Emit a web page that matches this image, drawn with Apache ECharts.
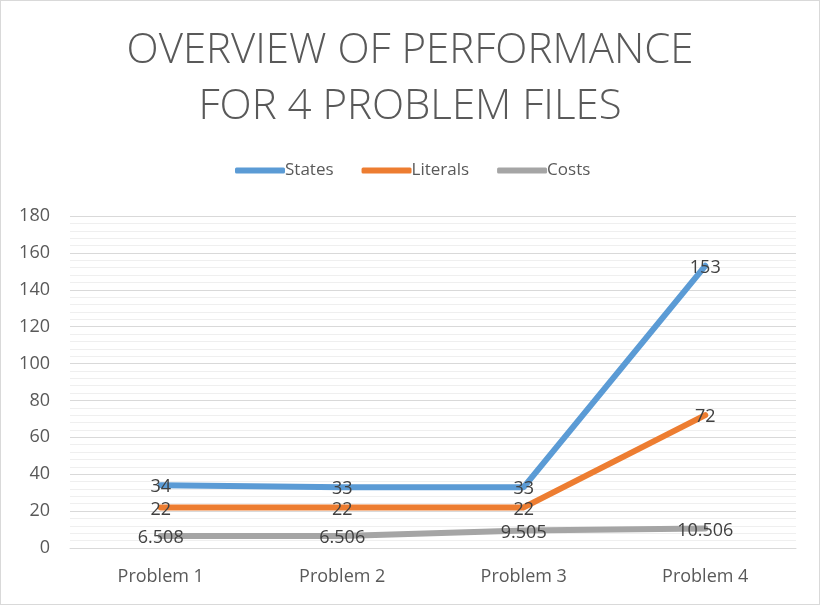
<!DOCTYPE html>
<html><head><meta charset="utf-8">
<script src="https://cdn.jsdelivr.net/npm/echarts@6/dist/echarts.min.js"></script>
<style>html,body{margin:0;padding:0;background:#fff}#c{position:absolute;left:0;top:0;width:818px;height:603px;border:1px solid #d9d9d9}</style>
</head><body><div id="c"></div>
<script>
const categories = ['Problem 1','Problem 2','Problem 3','Problem 4'];
const states = [34,33,33,153];
const literals = [22,22,22,72];
const costs = [6.508,6.506,9.505,10.506];
const FONT = '"Open Sans", "Noto Sans", sans-serif';
const chart = echarts.init(document.getElementById('c'));
function s(name, data, color){
  return {name, type:'line', data, smooth:false, symbol:'circle', symbolSize:0.01,
    itemStyle:{color}, lineStyle:{color, width:6, cap:'round', join:'round'},
    label:{show:true, position:'inside', offset:[0,2], color:'#404040', fontSize:18, fontFamily:FONT},
    emphasis:{disabled:true}, animation:false};
}
chart.setOption({
  animation:false,
  title:{text:'OVERVIEW OF PERFORMANCE\nFOR 4 PROBLEM FILES', left:'center', top:17,
    textStyle:{color:'#595959', fontSize:42, fontWeight:300, fontFamily:FONT, lineHeight:56}},
  legend:{top:156, left:229, itemWidth:50, itemHeight:6, itemGap:28, icon:'roundRect',
    textStyle:{color:'#595959', fontSize:17, fontFamily:FONT, padding:[0,0,0,-5]},
    data:['States','Literals','Costs']},
  grid:{left:69, right:23, top:215, bottom:56},
  xAxis:{type:'category', data:categories, boundaryGap:true,
    axisLine:{lineStyle:{color:'#d9d9d9', width:1}}, axisTick:{show:false},
    axisLabel:{color:'#595959', fontSize:18, fontFamily:FONT, margin:20}},
  yAxis:{type:'value', min:0, max:180, interval:20,
    axisLabel:{color:'#595959', fontSize:18, fontFamily:FONT, margin:20},
    splitLine:{lineStyle:{color:'#d9d9d9', width:1}},
    minorTick:{show:false, splitNumber:5},
    minorSplitLine:{show:true, lineStyle:{color:'#efefef', width:1}},
    axisLine:{show:false}, axisTick:{show:false}},
  series:[s('States',states,'#5B9BD5'), s('Literals',literals,'#ED7D31'), s('Costs',costs,'#A5A5A5')]
});
</script></body></html>
